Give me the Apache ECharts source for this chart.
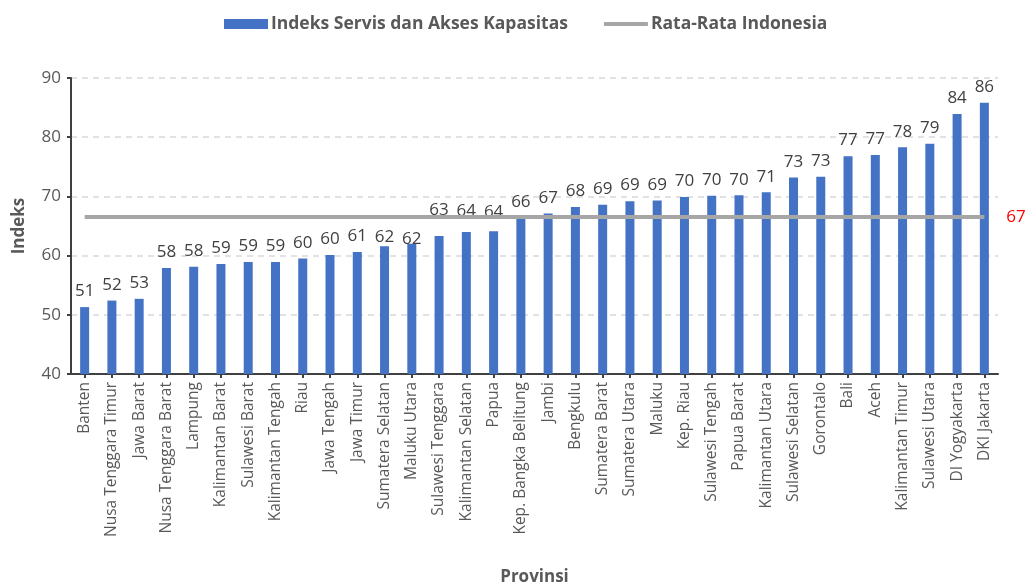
<!DOCTYPE html>
<html>
<head>
<meta charset="utf-8">
<script src="https://cdn.jsdelivr.net/npm/echarts@6/dist/echarts.min.js"></script>
<style>html,body{margin:0;padding:0;background:#fff}#c{width:1034px;height:588px}</style>
</head>
<body>
<div id="c"></div>
<script>
const categories = ["Banten","Nusa Tenggara Timur","Jawa Barat","Nusa Tenggara Barat","Lampung","Kalimantan Barat","Sulawesi Barat","Kalimantan Tengah","Riau","Jawa Tengah","Jawa Timur","Sumatera Selatan","Maluku Utara","Sulawesi Tenggara","Kalimantan Selatan","Papua","Kep. Bangka Belitung","Jambi","Bengkulu","Sumatera Barat","Sumatera Utara","Maluku","Kep. Riau","Sulawesi Tengah","Papua Barat","Kalimantan Utara","Sulawesi Selatan","Gorontalo","Bali","Aceh","Kalimantan Timur","Sulawesi Utara","DI Yogyakarta","DKI Jakarta"];
const indexValues = [51.3,52.4,52.7,57.9,58.1,58.6,58.9,58.9,59.5,60.1,60.6,61.6,62.0,63.3,64.0,64.1,66.2,67.1,68.2,68.6,69.2,69.3,69.9,70.1,70.2,70.7,73.2,73.3,76.8,77.0,78.3,78.9,83.9,85.8];
const nationalAverage = 66.5;
const averageValues = categories.map(() => nationalAverage);
const yTicks = {min: 40, max: 90, interval: 10};

// label nudges (px) used in the original to keep value labels clear of the average line
const labelNudge = {"Sumatera Selatan": 7, "Maluku Utara": 11, "Sulawesi Tenggara": -10, "Kalimantan Selatan": -5, "Papua": -4, "Kep. Bangka Belitung": -1};

const FONT = "Open Sans";
const barData = indexValues.map((v, i) => {
  const n = labelNudge[categories[i]];
  return n ? {value: v, label: {offset: [0, n]}} : v;
});

const chart = echarts.init(document.getElementById('c'));
chart.setOption({
  animation: false,
  textStyle: {fontFamily: FONT},
  legend: {
    top: 10, left: 219, itemGap: 36,
    textStyle: {fontFamily: FONT, fontSize: 17.5, fontWeight: 'bold', color: '#595959', padding: [0, 0, 0, -2]},
    data: [
      {name: 'Indeks Servis dan Akses Kapasitas', icon: 'rect', itemStyle: {color: '#4472C4'}},
      {name: 'Rata-Rata Indonesia', icon: 'path://M0,0H110V10H0Z', itemStyle: {color: '#A6A6A6'}}
    ],
    itemWidth: 44, itemHeight: 10
  },
  grid: {left: 71, right: 36, top: 78, bottom: 214, outerBoundsMode: 'none', containLabel: false},
  xAxis: {
    type: 'category', data: categories,
    name: 'Provinsi', nameLocation: 'middle', nameGap: 195,
    nameTextStyle: {fontFamily: FONT, fontSize: 17, fontWeight: 'bold', color: '#595959'},
    axisLine: {lineStyle: {color: '#404040', width: 2}},
    axisTick: {show: true, alignWithLabel: true, length: 4, lineStyle: {color: '#404040', width: 2}},
    axisLabel: {rotate: 90, interval: 0, fontSize: 15.5, color: '#595959', margin: 8, fontFamily: FONT}
  },
  yAxis: {
    type: 'value', min: yTicks.min, max: yTicks.max, interval: yTicks.interval,
    name: 'Indeks', nameLocation: 'middle', nameGap: 43, nameRotate: 90,
    nameTextStyle: {fontFamily: FONT, fontSize: 17, fontWeight: 'bold', color: '#595959'},
    axisLine: {show: true, lineStyle: {color: '#404040', width: 2}},
    axisTick: {show: true, length: 4, lineStyle: {color: '#404040', width: 2}},
    axisLabel: {fontSize: 17, color: '#595959', margin: 10, fontFamily: FONT},
    splitLine: {lineStyle: {color: '#d9d9d9', type: [6, 5], width: 1.5}}
  },
  series: [
    {
      name: 'Indeks Servis dan Akses Kapasitas', type: 'bar', data: barData,
      barWidth: 9, itemStyle: {color: '#4472C4'},
      label: {show: true, position: 'top', distance: 7, fontSize: 17, color: '#404040', fontFamily: FONT,
        formatter: p => Math.round(p.value)}
    },
    {
      name: 'Rata-Rata Indonesia', type: 'line', data: averageValues,
      symbol: 'none', z: 5,
      lineStyle: {color: '#A6A6A6', width: 4},
      itemStyle: {color: '#A6A6A6'},
      endLabel: {show: true, distance: 22, color: '#FF0000', fontSize: 17, fontFamily: FONT,
        formatter: p => Math.round(p.value)}
    }
  ]
});
</script>
</body>
</html>
